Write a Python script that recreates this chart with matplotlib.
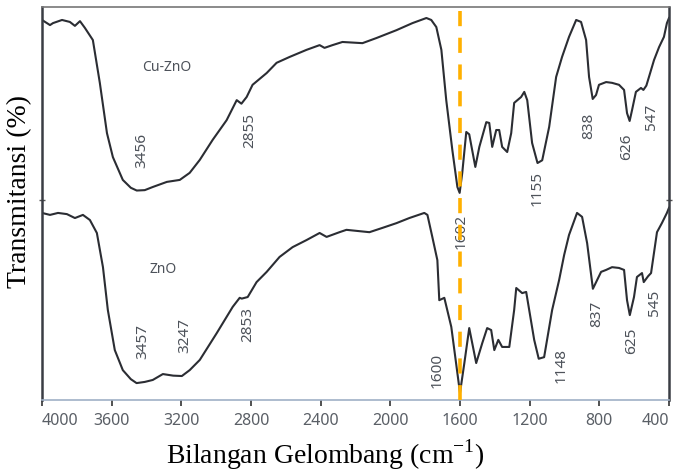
import numpy as np
import matplotlib.pyplot as plt

# FTIR spectra: wavenumber (cm-1) and relative transmittance
wn_cuzno = [4000, 3954, 3937, 3885, 3840, 3811, 3782, 3754, 3708, 3668, 3627, 3593,
            3536, 3490, 3456, 3410, 3364, 3283, 3209, 3152, 3094, 3020, 2940, 2882,
            2855, 2825, 2791, 2710, 2653, 2578, 2481, 2406, 2378, 2332, 2275, 2160,
            2080, 1965, 1873, 1793, 1765, 1736, 1707, 1679, 1644, 1615, 1602, 1587,
            1564, 1547, 1512, 1489, 1449, 1432, 1415, 1392, 1375, 1358, 1329, 1306,
            1289, 1249, 1231, 1214, 1186, 1155, 1128, 1088, 1048, 1014, 974, 933,
            905, 876, 859, 838, 819, 802, 761, 727, 687, 658, 641, 626, 612, 590,
            561, 547, 530, 515, 486, 457, 429, 412, 400]
t_cuzno = [96.7, 95.4, 95.9, 96.7, 96.2, 95.2, 96.4, 94.7, 91.6, 80.7, 67.9, 61.8,
           56.0, 54.0, 53.3, 53.4, 54.2, 55.5, 56.0, 57.8, 61.1, 66.2, 71.2, 76.3,
           75.4, 77.1, 80.2, 83.2, 85.8, 87.3, 89.1, 90.3, 89.6, 90.3, 91.1, 90.8,
           92.1, 94.1, 95.9, 97.2, 96.7, 94.9, 89.1, 76.3, 63.6, 54.2, 52.7, 57.8,
           68.2, 67.6, 59.3, 64.4, 70.7, 70.5, 64.4, 68.7, 68.7, 64.4, 63.1, 67.9,
           75.6, 77.1, 78.4, 76.3, 65.4, 60.3, 61.0, 69.5, 82.2, 87.3, 92.4, 96.7,
           96.2, 91.6, 82.2, 76.6, 77.6, 80.2, 80.9, 80.7, 80.2, 78.9, 73.0, 71.0,
           73.8, 78.4, 79.4, 78.9, 80.0, 82.2, 86.5, 89.8, 92.4, 95.9, 97.2]

wn_zno = [4000, 3954, 3908, 3857, 3811, 3765, 3725, 3685, 3650, 3622, 3582, 3536,
          3490, 3457, 3410, 3364, 3306, 3247, 3197, 3152, 3094, 2997, 2905, 2865,
          2853, 2819, 2768, 2710, 2636, 2561, 2481, 2406, 2366, 2292, 2252, 2120,
          2045, 1965, 1891, 1805, 1787, 1759, 1730, 1719, 1690, 1650, 1600, 1575,
          1547, 1507, 1472, 1444, 1421, 1403, 1380, 1358, 1317, 1289, 1277, 1243,
          1220, 1174, 1148, 1117, 1071, 1031, 1002, 974, 928, 899, 870, 837, 790,
          761, 727, 687, 658, 641, 625, 601, 584, 555, 545, 520, 503, 469, 441,
          412, 400]
t_zno = [47.6, 47.1, 47.6, 47.3, 46.3, 47.1, 45.8, 42.5, 33.8, 22.9, 12.7, 7.6,
         5.3, 4.3, 4.6, 5.1, 6.6, 6.2, 6.1, 7.6, 10.2, 17.0, 23.7, 26.0,
         25.8, 26.2, 30.0, 32.6, 36.4, 38.9, 40.7, 42.5, 41.5, 42.7, 43.3, 42.7,
         43.8, 45.0, 46.3, 47.6, 47.1, 41.5, 35.6, 25.4, 26.0, 18.6, 1.8, 9.4,
         18.3, 9.4, 14.5, 18.3, 17.8, 12.7, 15.3, 13.5, 13.5, 22.9, 28.5, 27.2,
         27.5, 15.3, 10.5, 10.9, 22.9, 30.5, 36.9, 42.0, 47.6, 46.6, 39.9, 28.3, 32.6,
         33.1, 33.8, 33.6, 33.1, 25.4, 21.6, 26.2, 31.3, 32.3, 30.0, 31.5, 32.3, 42.7, 45.0,
         47.6, 48.9]

# peak annotations: label, x position, y position
peaks_cuzno = [("3456", 3427, 63.6), ("2855", 2808, 68.7), ("1602", 1593, 43.0),
               ("1155", 1157, 53.9), ("838", 859, 69.7), ("626", 641, 64.4),
               ("547", 503, 72.0)]
peaks_zno = [("3457", 3421, 14.8), ("3247", 3180, 16.3), ("2853", 2819, 19.1),
             ("1600", 1730, 7.6), ("1148", 1019, 8.7), ("837", 813, 21.9),
             ("625", 612, 15.0), ("545", 486, 24.7)]

xticks = [4000, 3600, 3200, 2800, 2400, 2000, 1600, 1200, 800, 400]
marker_wn = 1600

fig = plt.figure(figsize=(6.78, 4.73), dpi=100)
ax = fig.add_axes([42 / 678, 73 / 473, 627 / 678, 393 / 473])

line_c = "#2b2d33"
ax.plot(wn_cuzno, t_cuzno, color=line_c, lw=1.5, solid_joinstyle="round")
ax.plot(wn_zno, t_zno, color=line_c, lw=1.5, solid_joinstyle="round")

# dashed reference line at the C=O / H-O-H band
ax.plot([marker_wn, marker_wn], [99, 0], color="#FFB000", lw=2.6,
        dashes=(4.2, 3.2), zorder=5, solid_capstyle="butt")

lab_c = "#4d525a"
for txt, x, y in peaks_cuzno + peaks_zno:
    ax.text(x, y, txt, rotation=90, ha="center", va="center", fontsize=11,
            color=lab_c, family="Noto Sans", rotation_mode="anchor")

ax.text(3283, 84.5, "Cu-ZnO", ha="center", va="center", fontsize=10,
        color=lab_c, family="Noto Sans")
ax.text(3306, 33.1, "ZnO", ha="center", va="center", fontsize=10,
        color=lab_c, family="Noto Sans")

ax.set_xlim(4000, 400)
ax.set_ylim(0, 100)
ax.set_xticks(xticks)
ax.set_xticklabels([str(v) for v in xticks], family="Noto Sans", fontsize=11.5,
                   color="#5a5f66")
ax.get_xticklabels()[0].set_ha("left")
ax.get_xticklabels()[-1].set_ha("right")
ax.set_yticks([50.9])
ax.set_yticklabels([])
ax.tick_params(axis="x", direction="out", length=4, width=1.2, color="#333333", pad=5)
ax.tick_params(axis="y", direction="inout", length=5, width=1, color="#555555",
               left=True, right=True)

for side in ("left", "right"):
    ax.spines[side].set_color("#3a3d44")
    ax.spines[side].set_linewidth(1.8)
ax.spines["top"].set_color("#777777")
ax.spines["top"].set_linewidth(1.2)
ax.spines["bottom"].set_color("#9fb0c6")
ax.spines["bottom"].set_linewidth(1.2)

fig.text(20 / 678, 1 - 192 / 473, "Transmitansi (%)", rotation=90, ha="center",
         va="center", fontsize=20, family="Liberation Serif")
fig.text(325 / 678, 1 - 455 / 473, "Bilangan Gelombang (cm$^{\\mathregular{-1}}$)",
         ha="center", va="center", fontsize=20, family="Liberation Serif")

fig.savefig("out.png", dpi=100)
